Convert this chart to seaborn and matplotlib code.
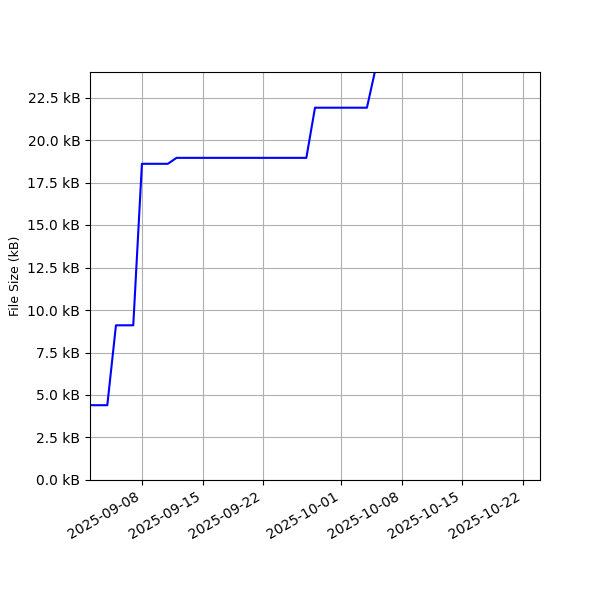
import pandas as pd
import matplotlib
matplotlib.use("Agg")
import matplotlib.pyplot as plt
import matplotlib.dates as mdates
from matplotlib.ticker import FuncFormatter, MultipleLocator
import seaborn as sns

# file size history (kB)
dates = ["2025-09-02", "2025-09-04", "2025-09-05", "2025-09-07", "2025-09-08",
         "2025-09-11", "2025-09-12", "2025-09-27", "2025-09-28", "2025-10-04",
         "2025-10-05"]
sizes_kb = [4.4, 4.4, 9.1, 9.1, 18.6, 18.6, 18.95, 18.95, 21.9, 21.9, 24.2]

df = pd.DataFrame({"date": pd.to_datetime(dates), "size": sizes_kb})

fig, ax = plt.subplots(figsize=(6, 6), dpi=100)
sns.lineplot(x="date", y="size", data=df, color="blue", linewidth=1.5, ax=ax)

ax.set_xlim(pd.Timestamp("2025-09-02"), pd.Timestamp("2025-10-24"))
ax.set_ylim(0, 24)
ax.yaxis.set_major_locator(MultipleLocator(2.5))
ax.yaxis.set_major_formatter(FuncFormatter(lambda v, pos: f"{v:.1f} kB"))
ax.xaxis.set_major_formatter(mdates.DateFormatter("%Y-%m-%d"))
ax.set_xlabel("")
ax.set_ylabel("File Size (kB)", fontsize=9)
ax.grid(True)
fig.autofmt_xdate()
fig.subplots_adjust(left=0.15, right=0.9, bottom=0.2, top=0.88)

plt.savefig("out.png", dpi=100)
